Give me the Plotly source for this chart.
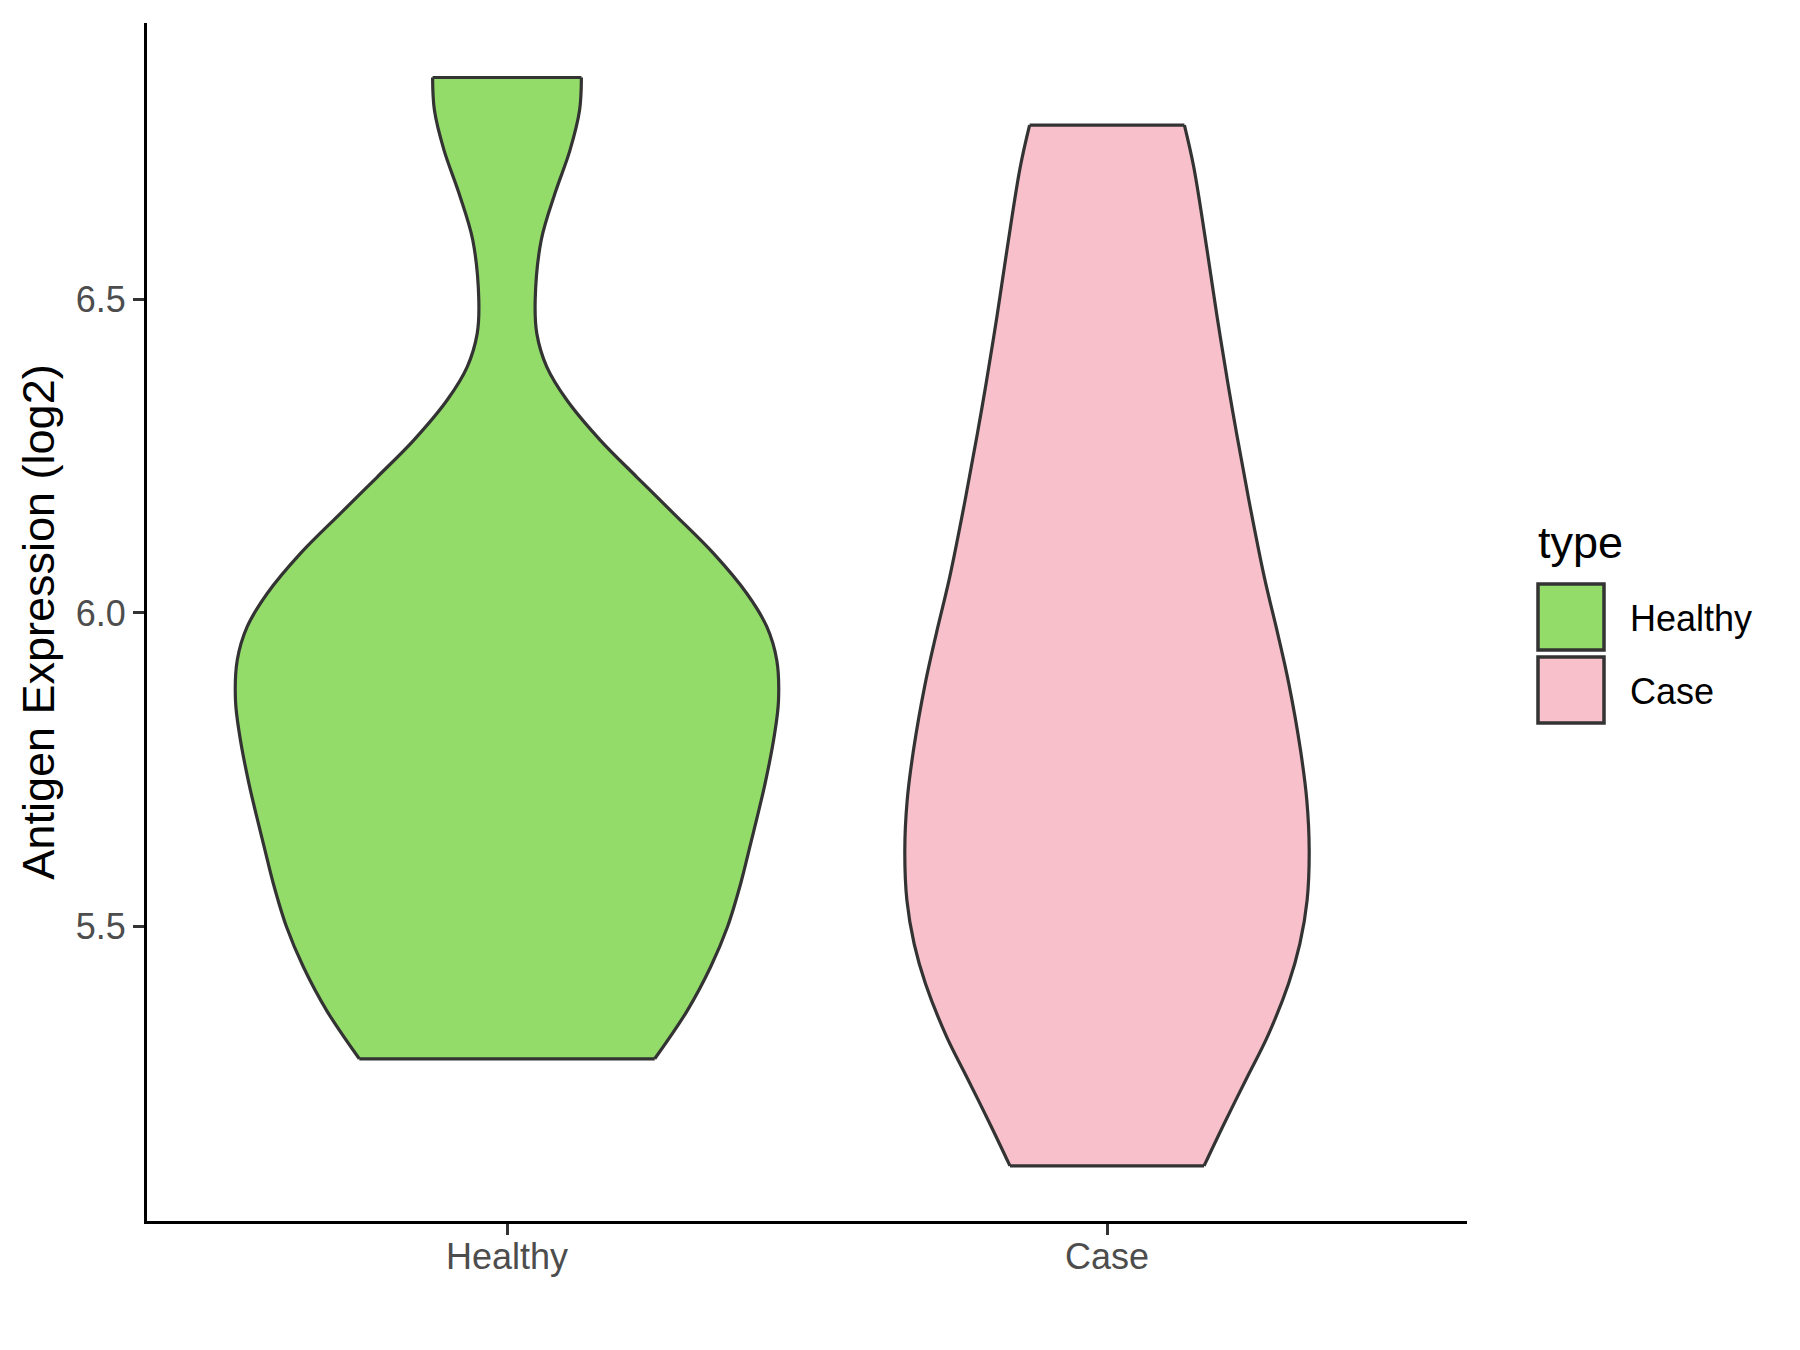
import plotly.graph_objects as go

# ---- data ----
categories = ["Healthy", "Case"]
fill_colors = ["#94DC6A", "#F7C0CB"]

# violin outline: y value and half-width (in category-axis units), top to bottom
healthy_y = [6.855, 6.803, 6.739, 6.670, 6.595, 6.500, 6.446, 6.393, 6.340, 6.276,
             6.217, 6.159, 6.095, 6.031, 5.978, 5.924, 5.860, 5.807, 5.727, 5.621,
             5.568, 5.498, 5.435, 5.365, 5.288]
healthy_hw = [0.124, 0.121, 0.105, 0.080, 0.057, 0.047, 0.0497, 0.0663, 0.0997, 0.1553,
              0.2163, 0.2775, 0.3442, 0.3997, 0.433, 0.4497, 0.4525, 0.446, 0.430, 0.4033,
              0.3895, 0.3672, 0.3395, 0.3005, 0.2462]

case_y = [6.779, 6.7125, 6.580, 6.473, 6.3665, 6.2866, 6.180, 6.058, 5.967, 5.887,
          5.781, 5.701, 5.621, 5.541, 5.472, 5.408, 5.323, 5.259, 5.184, 5.117]
case_hw = [0.129, 0.1445, 0.1667, 0.1835, 0.2015, 0.2160, 0.2365, 0.262, 0.2845, 0.303,
           0.3225, 0.3330, 0.3370, 0.3335, 0.3215, 0.3025, 0.2672, 0.2338, 0.195, 0.1617]

y_ticks = [5.5, 6.0, 6.5]
y_tick_labels = ["5.5", "6.0", "6.5"]
y_range = [5.029, 6.942]
x_range = [0.4, 2.6]

FONT = "Liberation Sans, Arial, sans-serif"
W, H = 1800, 1350
OFF = 8  # page body margin
ML = 147 - OFF
MT = 23 - OFF
MR = W - (1467 - OFF)
MB = H - (1221 - OFF)
OUTLINE = "#333333"
LW = 3.2

fig = go.Figure()

profiles = [(healthy_y, healthy_hw), (case_y, case_hw)]
for i, (cat, col, (ys, hws)) in enumerate(zip(categories, fill_colors, profiles)):
    c = i + 1
    left_x = [c - h for h in hws]
    right_x = [c + h for h in hws]
    spline = dict(shape="spline", smoothing=1.0)
    # fill between the smooth left and right sides (straight top / bottom joins)
    fig.add_trace(go.Scatter(x=left_x, y=ys, mode="lines",
                             line=dict(width=0, color=col, **spline),
                             showlegend=False, hoverinfo="skip"))
    fig.add_trace(go.Scatter(x=right_x, y=ys, mode="lines", fill="tonextx", fillcolor=col,
                             line=dict(width=0, color=col, **spline),
                             showlegend=False, hoverinfo="skip"))
    # outline: left side, right side (smooth), top and bottom edges (straight)
    ox = left_x + [None] + right_x + [None] + [left_x[0], right_x[0]] + [None] + [left_x[-1], right_x[-1]]
    oy = list(ys) + [None] + list(ys) + [None] + [ys[0], ys[0]] + [None] + [ys[-1], ys[-1]]
    fig.add_trace(go.Scatter(x=ox, y=oy, mode="lines", connectgaps=False,
                             line=dict(color=OUTLINE, width=LW, **spline),
                             name=cat, showlegend=False, hoverinfo="name"))

fig.update_xaxes(
    range=x_range, tickvals=[1, 2], ticktext=categories,
    showline=True, linecolor="black", linewidth=3, mirror=False,
    ticks="outside", ticklen=11, tickwidth=3, tickcolor="#333333",
    tickfont=dict(family=FONT, size=36, color="#4D4D4D"),
    ticklabelstandoff=-9,
    showgrid=False, zeroline=False,
)
fig.update_yaxes(
    range=y_range, tickvals=y_ticks, ticktext=y_tick_labels,
    showline=True, linecolor="black", linewidth=3, mirror=False,
    ticks="outside", ticklen=11, tickwidth=3, tickcolor="#333333",
    tickfont=dict(family=FONT, size=36, color="#4D4D4D"),
    showgrid=False, zeroline=False,
    title=dict(text="Antigen Expression (log2)", font=dict(family=FONT, size=45, color="black"),
               standoff=8),
)

# manual ggplot-style legend (paper coords computed from reference pixel positions)
pw, ph = W - ML - MR, H - MT - MB
def px(x):
    return (x - OFF - ML) / pw
def py(y):
    return 1 - (y - OFF - MT) / ph

shapes = []
annotations = [dict(x=px(1536), y=py(542), xref="paper", yref="paper", text="type",
                    showarrow=False, xanchor="left", yanchor="middle",
                    font=dict(family=FONT, size=45, color="black"))]
key_tops = [583, 656]
for cat, col, top in zip(categories, fill_colors, key_tops):
    shapes.append(dict(type="rect", xref="paper", yref="paper",
                       x0=px(1538), x1=px(1604), y0=py(top + 1), y1=py(top + 67),
                       fillcolor=col, line=dict(color=OUTLINE, width=3.5)))
    annotations.append(dict(x=px(1628), y=py(top + 35), xref="paper", yref="paper", text=cat,
                            showarrow=False, xanchor="left", yanchor="middle",
                            font=dict(family=FONT, size=36, color="black")))

fig.update_layout(
    width=W, height=H,
    margin=dict(l=ML, r=MR, t=MT, b=MB, autoexpand=False),
    plot_bgcolor="white", paper_bgcolor="white",
    showlegend=False,
    shapes=shapes, annotations=annotations,
)

fig.write_html("out.html")
